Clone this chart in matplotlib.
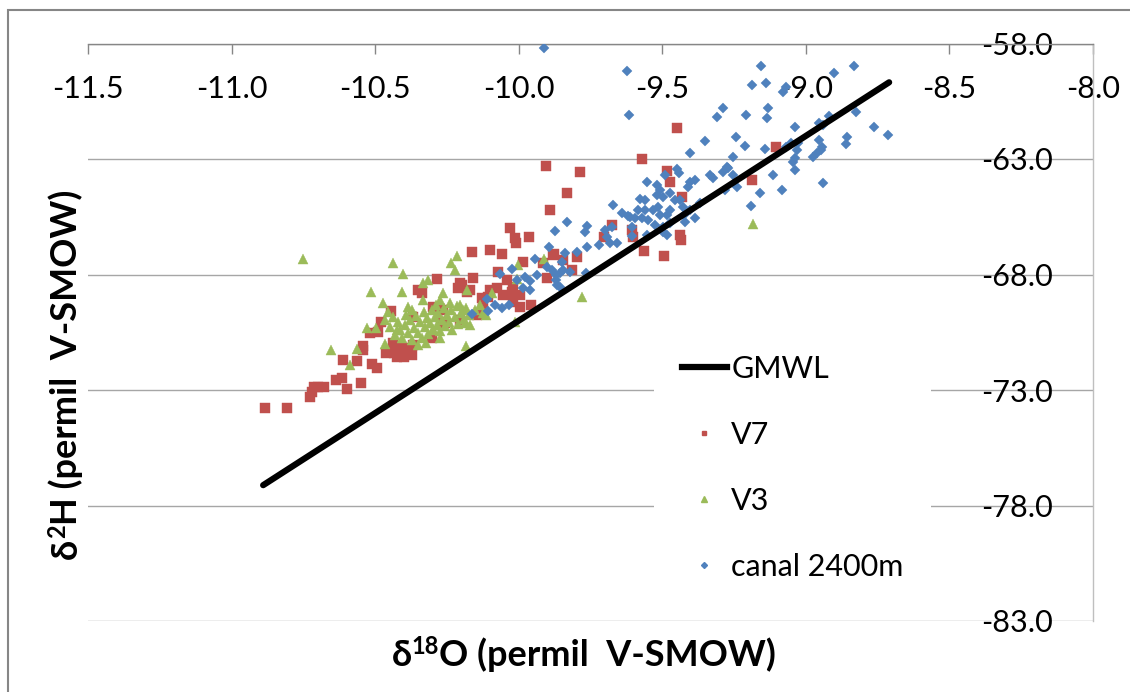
import matplotlib
matplotlib.use('Agg')
import matplotlib.pyplot as plt
from matplotlib.lines import Line2D
from matplotlib.patches import Rectangle

plt.rcParams['font.family'] = ['Lato', 'DejaVu Sans']
plt.rcParams['axes.unicode_minus'] = False

# ---------------- data ----------------
x_ticks = [-11.5, -11.0, -10.5, -10.0, -9.5, -9.0, -8.5, -8.0]
x_tick_labels = ['-11.5', '-11.0', '-10.5', '-10.0', '-9.5', '-9.0', '-8.5', '-8.0']
y_ticks = [-83.0, -78.0, -73.0, -68.0, -63.0, -58.0]
y_tick_labels = ['-83.0', '-78.0', '-73.0', '-68.0', '-63.0', '-58.0']

gmwl_x = [-10.89, -8.71]
gmwl_y = [-77.12, -59.68]

v7_x = [-10.883, -10.807, -10.727, -10.720, -10.713, -10.699, -10.678, -10.636, -10.615, -10.598,
        -10.549, -10.612, -10.563, -10.542, -10.542, -10.510, -10.493, -10.479, -10.490, -10.444,
        -10.462, -10.437, -10.434, -10.423, -10.402, -10.399, -10.371, -10.368, -10.368, -10.350,
        -10.336, -10.301, -10.284, -10.263, -10.263, -10.204, -10.211, -10.179, -10.204, -10.162,
        -10.099, -10.057, -10.030, -10.012, -10.009, -9.963, -9.890, -9.831, -9.904, -9.786,
        -9.570, -9.448, -9.483, -9.472, -9.430, -9.186, -9.103, -9.674, -9.702, -9.605,
        -9.601, -9.437, -9.434, -9.563, -9.493, -9.796, -9.814, -9.876, -10.099, -10.075,
        -10.054, -10.023, -9.995, -10.019, -9.995, -9.956, -10.040, -10.071, -10.019, -9.915,
        -9.880, -9.901, -9.984, -10.197, -10.159, -10.169, -10.127, -10.106, -10.124, -10.145,
        -10.256, -10.298, -9.845, -10.517]
v7_y = [-73.78, -73.78, -73.30, -73.09, -72.87, -72.87, -72.87, -72.57, -72.48, -72.96,
        -72.70, -71.70, -71.74, -71.10, -71.27, -71.87, -72.05, -70.06, -70.49, -69.58,
        -71.40, -70.97, -71.40, -71.57, -71.18, -71.57, -71.48, -71.05, -69.84, -68.67,
        -68.80, -70.75, -68.19, -69.54, -70.06, -68.37, -68.58, -68.76, -69.97, -67.03,
        -66.94, -67.11, -65.99, -66.42, -66.64, -66.38, -65.21, -64.47, -63.30, -63.56,
        -63.00, -61.66, -63.52, -64.00, -64.65, -63.91, -62.48, -65.86, -66.38, -66.07,
        -66.38, -66.29, -66.51, -66.98, -67.20, -67.24, -67.81, -67.11, -68.67, -68.58,
        -68.89, -68.76, -68.89, -69.19, -69.41, -69.32, -68.24, -67.89, -68.54, -67.50,
        -67.16, -68.15, -67.46, -68.45, -68.15, -68.67, -69.02, -68.97, -69.45, -69.75,
        -70.10, -69.41, -67.37, -70.53]

v3_x = [-10.751, -10.437, -10.402, -10.514, -10.406, -10.472, -10.528, -10.497, -10.653, -10.563,
        -10.587, -10.465, -10.437, -10.385, -10.448, -10.423, -10.333, -10.315, -10.333, -10.263,
        -10.274, -10.235, -10.214, -10.221, -10.179, -10.183, -10.204, -10.186, -10.012, -10.005,
        -9.911, -10.002, -9.779, -10.092, -9.183, -10.124, -10.298, -10.193,
        -10.430, -10.413, -10.406, -10.395, -10.385, -10.378, -10.371, -10.364, -10.357, -10.350,
        -10.343, -10.336, -10.329, -10.326, -10.319, -10.315, -10.308, -10.301, -10.298, -10.291,
        -10.284, -10.280, -10.274, -10.267, -10.260, -10.256, -10.249, -10.242, -10.235, -10.232,
        -10.221, -10.214, -10.211, -10.200, -10.190, -10.183, -10.172, -10.392, -10.350, -10.322,
        -10.274, -10.420, -10.371, -10.287, -10.239, -10.169, -10.152, -10.134, -10.113, -10.465,
        -10.455]
v3_y = [-67.33, -67.50, -67.98, -68.76, -68.76, -69.23, -70.32, -70.32, -71.27, -71.23,
        -71.92, -71.01, -69.84, -69.41, -70.27, -70.40, -68.37, -68.24, -69.10, -68.80,
        -69.10, -67.50, -67.20, -67.81, -68.67, -71.10, -69.32, -70.10, -70.06, -68.19,
        -67.33, -67.59, -68.97, -68.80, -65.81, -69.67, -70.40, -69.54,
        -70.62, -70.40, -70.75, -70.19, -70.53, -69.97, -70.84, -70.32, -69.80, -70.53,
        -70.06, -70.75, -69.62, -70.27, -69.88, -70.58, -70.10, -69.54, -70.36, -69.84,
        -70.19, -69.67, -70.45, -69.97, -69.45, -70.23, -69.75, -70.06, -69.54, -70.40,
        -69.84, -69.36, -70.14, -69.67, -69.93, -69.45, -69.75, -69.75, -71.05, -70.97,
        -70.75, -70.06, -69.54, -69.32, -69.23, -70.19, -69.54, -69.32, -69.75, -69.97,
        -69.62]

canal_x = [-9.911, -9.622, -9.615, -9.308, -9.287, -9.207, -9.242, -9.350, -9.211, -9.402,
           -9.253, -9.274, -9.448, -9.441, -9.490, -9.552, -9.333, -9.322, -9.287, -9.270,
           -9.253, -9.402, -9.385, -9.409, -9.280, -9.239, -9.159, -9.368, -9.190, -9.517,
           -9.507, -9.517, -9.497, -9.472, -9.455, -9.437, -9.427, -9.402, -9.385, -9.420,
           -9.559, -9.577, -9.671, -9.639, -9.618, -9.584, -9.559, -9.612, -9.594, -9.570,
           -9.549, -9.531, -9.514, -9.507, -9.524, -9.483, -9.472, -9.497, -9.472, -9.497,
           -9.483, -9.552, -9.605, -9.605, -9.674, -9.699, -9.761, -9.768, -9.831, -9.873,
           -9.692, -9.681, -9.657, -9.720, -9.761, -9.796, -9.838, -9.848, -9.821, -9.765,
           -9.855, -9.423, -9.894, -9.943, -9.883, -9.869, -9.845, -9.869, -9.855, -10.023,
           -10.064, -9.977, -9.960, -9.984, -9.960, -10.110, -10.082, -10.057, -10.033, -10.106,
           -10.162, -10.005, -9.936, -9.901, -9.866, -9.155, -8.831, -8.901, -9.186, -9.138,
           -9.078, -9.068, -9.131, -9.134, -8.824, -8.918, -8.953, -8.939, -9.037, -8.761,
           -8.713, -8.855, -8.859, -9.141, -9.068, -9.051, -9.026, -9.030, -9.037, -9.044,
           -8.953, -8.943, -8.949, -8.960, -8.974, -9.037, -9.113, -9.082, -8.939]
canal_y = [-58.19, -59.19, -61.10, -61.18, -60.79, -61.10, -62.05, -62.22, -62.44, -62.74,
           -62.91, -63.35, -63.43, -63.61, -63.69, -64.00, -63.69, -63.82, -63.56, -63.39,
           -63.69, -64.00, -63.91, -64.21, -64.34, -64.21, -64.47, -64.90, -65.03, -64.13,
           -64.34, -64.56, -64.65, -64.47, -64.77, -64.77, -65.08, -65.21, -65.55, -65.73,
           -64.77, -64.73, -64.99, -65.34, -65.47, -65.21, -65.21, -65.51, -65.55, -65.55,
           -65.64, -65.21, -65.08, -65.42, -65.86, -65.42, -65.21, -65.94, -65.77, -66.16,
           -66.29, -66.29, -65.94, -66.33, -65.94, -66.07, -65.90, -66.16, -65.73, -66.12,
           -66.38, -66.64, -66.64, -66.72, -66.81, -67.03, -67.07, -67.46, -67.89, -67.94,
           -67.94, -65.42, -66.81, -67.33, -67.81, -68.02, -67.81, -68.24, -68.54, -67.76,
           -67.98, -68.11, -68.28, -68.58, -68.67, -69.06, -69.32, -69.45, -69.32, -69.58,
           -69.71, -68.24, -68.02, -67.68, -68.45, -58.97, -58.97, -59.28, -59.80, -59.71,
           -60.10, -59.88, -60.79, -61.23, -60.97, -61.14, -61.44, -61.53, -61.61, -61.61,
           -61.96, -62.05, -62.35, -62.57, -62.48, -62.31, -62.31, -62.61, -62.96, -63.13,
           -62.18, -62.48, -62.61, -62.74, -62.91, -63.48, -63.69, -64.34, -64.04]

series_names = ['GMWL', 'V7', 'V3', 'canal 2400m']
c_red = '#C0504D'
c_green = '#9BBB59'
c_blue = '#4F81BD'

W, H = 1130, 692
fig = plt.figure(figsize=(W / 100, H / 100), dpi=100)
ax = fig.add_axes([88 / W, 1 - 621 / H, (1093 - 88) / W, (621 - 43.5) / H])

ax.plot(v7_x, v7_y, ls='none', marker='s', ms=6.5, color=c_red, mec=c_red, mew=0.3, zorder=3)
ax.plot(v3_x, v3_y, ls='none', marker='^', ms=7, color=c_green, mec=c_green, mew=0.3, zorder=3)
ax.plot(canal_x, canal_y, ls='none', marker='D', ms=5.5, color=c_blue, mec=c_blue, mew=0.3, zorder=3)
ax.plot(gmwl_x, gmwl_y, color='black', lw=4.5, solid_capstyle='round', zorder=4)

ax.set_xlim(-11.5, -8.0)
ax.set_ylim(-83.0, -58.0)

ax.xaxis.tick_top()
ax.set_xticks(x_ticks, x_tick_labels)
ax.tick_params(axis='x', direction='in', length=7, width=1, color='#868686',
               pad=-43, labelsize=22, labelcolor='black')

ax.yaxis.tick_right()
ax.set_yticks(y_ticks, y_tick_labels, ha='right')
ax.tick_params(axis='y', length=0, pad=-29, labelsize=22, labelcolor='black')

ax.yaxis.grid(True, color='#A6A6A6', lw=1)
ax.xaxis.grid(False)
ax.set_axisbelow(True)
for side in ['left', 'bottom']:
    ax.spines[side].set_visible(False)
ax.spines['top'].set_color('#868686')
ax.spines['top'].set_linewidth(1)
ax.spines['right'].set_color('#BFBFBF')
ax.spines['right'].set_linewidth(1)

handles = [
    Line2D([], [], color='black', lw=4.5),
    Line2D([], [], ls='none', marker='s', ms=6.5, color=c_red),
    Line2D([], [], ls='none', marker='^', ms=7, color=c_green),
    Line2D([], [], ls='none', marker='D', ms=5.5, color=c_blue),
]
leg = ax.legend(handles, series_names, loc='upper left',
                bbox_to_anchor=(654 / W, 1 - 327 / H), bbox_transform=fig.transFigure,
                borderaxespad=0, frameon=True, facecolor='white', edgecolor='none',
                framealpha=1, fontsize=22, handlelength=1.48, handletextpad=0.15,
                borderpad=0.9, labelspacing=1.25, markerscale=0.55)
leg.set_zorder(6)

# figure border
fig.patches.append(Rectangle((8 / W, -0.05), 1.2, (H - 10) / H + 0.05, transform=fig.transFigure,
                             fill=False, edgecolor='#868686', lw=1.5, zorder=0))

# axis labels built from pieces (for superscripts)
renderer = fig.canvas.get_renderer()


def piece_label(pieces, cx, cy, rotation=0):
    widths = []
    for s, size, _ in pieces:
        t = fig.text(0, 0, s, fontsize=size, fontweight='bold')
        widths.append(t.get_window_extent(renderer).width)
        t.remove()
    total = sum(widths)
    pos = -total / 2
    for (s, size, rz), w in zip(pieces, widths):
        if rotation == 0:
            x, y = cx + pos, cy + rz
        else:
            x, y = cx - rz, cy + pos
        fig.text(x / W, y / H, s, fontsize=size, fontweight='bold', ha='left', va='baseline',
                 rotation=rotation, rotation_mode='anchor')
        pos += w


piece_label([('δ', 26, 0), ('18', 17, 12), ('O (permil  V-SMOW)', 26, 0)], 584, 26, 0)
piece_label([('δ', 26, 0), ('2', 17, 12), ('H (permil  V-SMOW)', 26, 0)], 77, 318, 90)

fig.savefig('out.png', dpi=100)
